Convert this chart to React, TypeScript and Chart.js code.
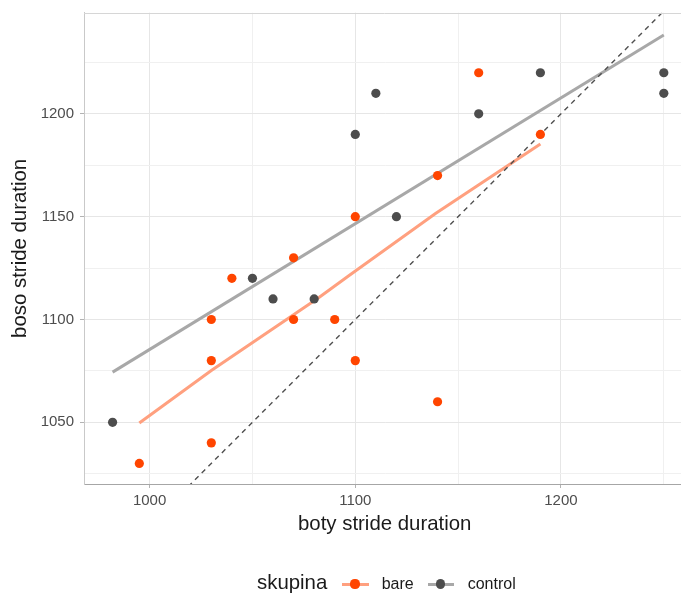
import React, { useEffect, useRef } from "react";
import { Chart, registerables } from "chart.js";

Chart.register(...registerables);

// ---- data ----
const bareX = [995, 1030, 1030, 1030, 1040, 1070, 1070, 1090, 1100, 1100, 1140, 1140, 1160, 1190];
const bareY = [1030, 1040, 1080, 1100, 1120, 1130, 1100, 1100, 1150, 1080, 1170, 1060, 1220, 1190];
const controlX = [982, 1050, 1060, 1080, 1100, 1110, 1120, 1160, 1190, 1250, 1250];
const controlY = [1050, 1120, 1110, 1110, 1190, 1210, 1150, 1200, 1220, 1220, 1210];
const bareFitX = [995, 1030, 1082, 1097, 1139, 1190];
const bareFitY = [1049.7, 1075.2, 1110.5, 1121.4, 1151.5, 1185.4];
const controlFitX = [982, 1250];
const controlFitY = [1074.4, 1238.4];
const identityLine = [960, 1270];
const xTicks = [1000, 1050, 1100, 1150, 1200, 1250];
const xLabelTicks = [1000, 1100, 1200];
const yTicks = [1025, 1050, 1075, 1100, 1125, 1150, 1175, 1200, 1225];
const yLabelTicks = [1050, 1100, 1150, 1200];
const legendTitle = "skupina";
const seriesNames = ["bare", "control"];
const xTitle = "boty stride duration";
const yTitle = "boso stride duration";

const FONT = "'Liberation Sans', Arial, Helvetica, sans-serif";
const ORANGE = "#FF4500";
const ORANGE_LINE = "#FFA07F";
const DARK = "#4D4D4D";
const GRAY_LINE = "#A8A8A8";
const CANVAS_W = 690;

const zip = (xs: number[], ys: number[]) => xs.map((x, i) => ({ x, y: ys[i] }));

const topBorder = {
  id: "topBorder",
  afterDraw(chart: any) {
    const { ctx, chartArea } = chart;
    ctx.save();
    ctx.strokeStyle = "#D6D6D6";
    ctx.lineWidth = 1;
    ctx.beginPath();
    ctx.moveTo(chartArea.left, Math.round(chartArea.top) + 0.5);
    ctx.lineTo(chartArea.right, Math.round(chartArea.top) + 0.5);
    ctx.stroke();
    ctx.restore();
  },
};

export default function App() {
  const ref = useRef<HTMLCanvasElement | null>(null);

  useEffect(() => {
    if (!ref.current) return;
    Chart.defaults.font.family = FONT;
    const chart = new Chart(ref.current, {
      type: "scatter",
      data: {
        datasets: [
          {
            label: seriesNames[0],
            data: zip(bareX, bareY),
            backgroundColor: ORANGE,
            borderColor: ORANGE,
            borderWidth: 0,
            pointRadius: 4.6,
            order: 0,
          },
          {
            label: seriesNames[1],
            data: zip(controlX, controlY),
            backgroundColor: DARK,
            borderColor: DARK,
            borderWidth: 0,
            pointRadius: 4.6,
            order: 0,
          },
          {
            label: "bare fit",
            data: zip(bareFitX, bareFitY),
            showLine: true,
            borderColor: ORANGE_LINE,
            borderWidth: 3,
            pointRadius: 0,
            tension: 0,
            order: 2,
          },
          {
            label: "control fit",
            data: zip(controlFitX, controlFitY),
            showLine: true,
            borderColor: GRAY_LINE,
            borderWidth: 3,
            pointRadius: 0,
            order: 2,
          },
          {
            label: "identity",
            data: zip(identityLine, identityLine),
            showLine: true,
            borderColor: "#505050",
            borderWidth: 1.4,
            borderDash: [5, 4.5],
            pointRadius: 0,
            order: 1,
          },
        ],
      },
      options: {
        animation: false,
        responsive: false,
        layout: { padding: { top: 12.7, bottom: 50, left: 0, right: 0 } },
        plugins: { legend: { display: false }, tooltip: { enabled: false } },
        scales: {
          x: {
            type: "linear",
            min: 968.1,
            max: 1260.5,
            afterFit: (s: any) => {
              s.height = 60;
              s.paddingLeft = 0;
              s.paddingRight = 0;
            },
            afterBuildTicks: (s: any) => {
              s.ticks = xTicks.map((v) => ({ value: v }));
            },
            ticks: {
              autoSkip: false,
              maxRotation: 0,
              padding: 4,
              color: DARK,
              font: { size: 15, family: FONT },
              callback: (v: any) => (xLabelTicks.includes(Number(v)) ? String(v) : ""),
            },
            grid: {
              color: (c: any) => (xLabelTicks.includes(c.tick?.value) ? "#E6E6E6" : "#F0F0F0"),
              lineWidth: 1,
              tickLength: 4,
              tickColor: (c: any) => (xLabelTicks.includes(c.tick?.value) ? "#B3B3B3" : "rgba(0,0,0,0)"),
            },
            border: { display: true, color: "#A6A6A6", width: 1 },
            title: {
              display: true,
              text: xTitle,
              color: "#1A1A1A",
              font: { size: 20.4, family: FONT },
              padding: { top: 0, bottom: 7.5 },
            },
          },
          y: {
            type: "linear",
            min: 1020,
            max: 1249.2,
            afterFit: (s: any) => {
              s.width = 84;
              s.paddingTop = 0;
              s.paddingBottom = 0;
            },
            afterBuildTicks: (s: any) => {
              s.ticks = yTicks.map((v) => ({ value: v }));
            },
            ticks: {
              autoSkip: false,
              padding: 6,
              color: DARK,
              font: { size: 15, family: FONT },
              callback: (v: any) => (yLabelTicks.includes(Number(v)) ? String(v) : ""),
            },
            grid: {
              color: (c: any) => (yLabelTicks.includes(c.tick?.value) ? "#E6E6E6" : "#F0F0F0"),
              lineWidth: 1,
              tickLength: 4,
              tickColor: (c: any) => (yLabelTicks.includes(c.tick?.value) ? "#B3B3B3" : "rgba(0,0,0,0)"),
            },
            border: { display: true, color: "#C9C9C9", width: 1 },
            title: {
              display: true,
              text: yTitle,
              color: "#1A1A1A",
              font: { size: 20.4, family: FONT },
              padding: { top: 8, bottom: 0 },
            },
          },
        },
      },
      plugins: [topBorder],
    } as any);
    return () => chart.destroy();
  }, []);

  const txt = (size: number): React.CSSProperties => ({
    position: "absolute",
    fontFamily: FONT,
    fontSize: size,
    lineHeight: `${size}px`,
    whiteSpace: "nowrap",
  });
  const key = (left: number, width: number, line: string, dot: string) => (
    <>
      <div style={{ position: "absolute", left, top: 582.5, width, height: 3, background: line }} />
      <div
        style={{
          position: "absolute",
          left: left + width / 2 - 4.6,
          top: 584 - 4.6,
          width: 9.2,
          height: 9.2,
          borderRadius: "50%",
          background: dot,
        }}
      />
    </>
  );

  return (
    <div style={{ position: "fixed", left: 0, top: 0, width: 681, height: 594, background: "#fff", overflow: "hidden" }}>
      <canvas
        ref={ref}
        width={CANVAS_W}
        height={594}
        style={{ position: "absolute", left: 0, top: 0, width: CANVAS_W, height: 594 }}
      />
      <span style={{ ...txt(20.4), left: 257, top: 572.1, color: "#1A1A1A" }}>{legendTitle}</span>
      {key(341.5, 27, ORANGE_LINE, ORANGE)}
      <span style={{ ...txt(16), left: 381.7, top: 575.8, color: "#1A1A1A" }}>{seriesNames[0]}</span>
      {key(427.5, 26, GRAY_LINE, DARK)}
      <span style={{ ...txt(16), left: 467.7, top: 575.8, color: "#1A1A1A" }}>{seriesNames[1]}</span>
    </div>
  );
}
